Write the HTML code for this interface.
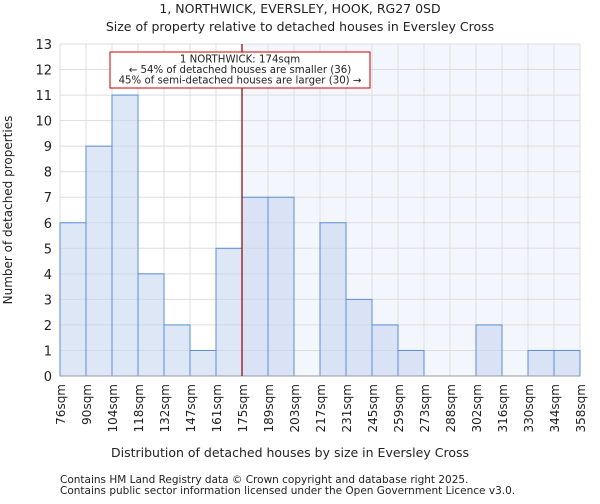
<!DOCTYPE html>
<html><head><meta charset="utf-8"><style>
body{margin:0;background:#fff;font-family:"DejaVu Sans","Liberation Sans",sans-serif}
svg text{font-family:"DejaVu Sans","Liberation Sans",sans-serif;fill:#222}
</style></head><body>
<svg id="c" width="600" height="500">
<text x="300" y="13" font-size="12.5" text-anchor="middle">1, NORTHWICK, EVERSLEY, HOOK, RG27 0SD</text>
<text x="300" y="31" font-size="12.5" text-anchor="middle">Size of property relative to detached houses in Eversley Cross</text>
<g id="plot"></g>
<text x="290" y="457" font-size="12.5" text-anchor="middle">Distribution of detached houses by size in Eversley Cross</text>
<text transform="translate(12,210) rotate(-90)" font-size="12" text-anchor="middle">Number of detached properties</text>
<text x="60" y="483" font-size="10.5">Contains HM Land Registry data © Crown copyright and database right 2025.</text>
<text x="60" y="494" font-size="10.5">Contains public sector information licensed under the Open Government Licence v3.0.</text>
</svg>
<script>
const binLabels=["76sqm","90sqm","104sqm","118sqm","132sqm","147sqm","161sqm","175sqm","189sqm","203sqm","217sqm","231sqm","245sqm","259sqm","273sqm","288sqm","302sqm","316sqm","330sqm","344sqm","358sqm"];
const counts=[6,9,11,4,2,1,5,7,7,0,6,3,2,1,0,0,2,0,1,1];
const yTicks=[0,1,2,3,4,5,6,7,8,9,10,11,12,13];
const markerIndex=7;
const X0=60,X1=580,Y0=376,Y1=44,YMAX=13;
const bw=(X1-X0)/counts.length;
const xs=i=>X0+i*bw;
const ys=v=>Y0-(v/YMAX)*(Y0-Y1);
const NS="http://www.w3.org/2000/svg";
const g=document.getElementById('plot');
function mk(t,a){const e=document.createElementNS(NS,t);for(const k in a)e.setAttribute(k,a[k]);g.appendChild(e);return e;}
let e=mk('rect',{x:xs(markerIndex),y:Y1,width:X1-xs(markerIndex),height:Y0-Y1,fill:'#f3f6fc'});


yTicks.forEach(v=>{
 let l=mk('line',{x1:X0,x2:X1,y1:ys(v),y2:ys(v),stroke:'#dddddd','stroke-width':1});
 
 
 let t=mk('text',{x:X0-8,y:ys(v)+5,'font-size':13,'text-anchor':'end'});t.textContent=v;
 
 
});
binLabels.forEach((s,i)=>{
 let l=mk('line',{x1:xs(i),x2:xs(i),y1:Y1,y2:Y0,stroke:'#dddddd','stroke-width':1});
 
 
 let t=mk('text',{transform:`translate(${xs(i)+5},${Y0+8}) rotate(-90)`,'font-size':12,'text-anchor':'end'});t.textContent=s;
 
 
});
counts.forEach((v,i)=>{
 if(v<=0)return;
 let r=mk('rect',{x:xs(i),y:ys(v),width:bw,height:Y0-ys(v),fill:'rgba(200,215,240,0.6)',stroke:'#5b8fd6','stroke-width':1});
 
 
});
let ax=mk('line',{x1:X0,x2:X1,y1:Y0,y2:Y0,stroke:'#999','stroke-width':1});


let ml=mk('line',{x1:xs(markerIndex),x2:xs(markerIndex),y1:Y1,y2:Y0,stroke:'#8b0000','stroke-width':1.2});


let bx=mk('rect',{x:110,y:52,width:260,height:36,fill:'#fff',stroke:'#cc0000','stroke-width':1});


["1 NORTHWICK: 174sqm","← 54% of detached houses are smaller (36)","45% of semi-detached houses are larger (30) →"].forEach((s,i)=>{
 let t=mk('text',{x:240,y:62.5+i*10.5,'font-size':10.2,'text-anchor':'middle'});t.textContent=s;
 
 
});
</script>
</body></html>
